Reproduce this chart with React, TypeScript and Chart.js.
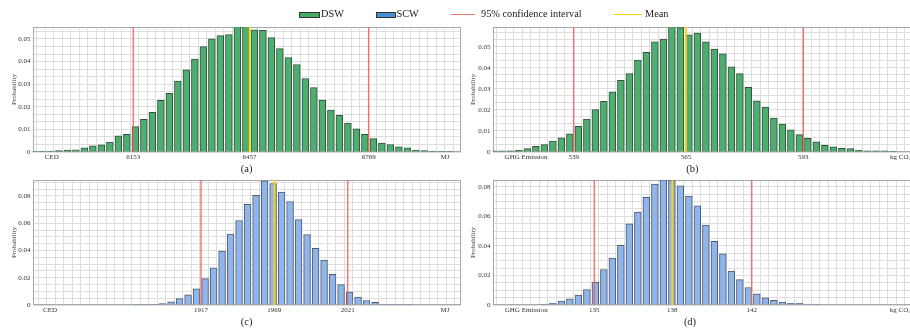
import React, { useEffect, useRef } from 'react';
import { Chart, registerables } from 'chart.js';

Chart.register(...registerables);

const FONT = "'Liberation Serif', 'Times New Roman', Times, serif";
Chart.defaults.font.family = FONT;

// histogram bins (categories)
const bins = Array.from({ length: 50 }, (_, i) => i);

// probability per bin
const dswCED = [
  0.0002, 0.0002, 0.0004, 0.0006, 0.0009, 0.001, 0.0018, 0.0027, 0.0032, 0.0044,
  0.0072, 0.0078, 0.0112, 0.0145, 0.0176, 0.0229, 0.026, 0.0314, 0.0363, 0.0411,
  0.0466, 0.0501, 0.0515, 0.0519, 0.0556, 0.0556, 0.0541, 0.0538, 0.0506, 0.0457,
  0.0418, 0.0387, 0.0325, 0.0285, 0.023, 0.0186, 0.0162, 0.0128, 0.0103, 0.0078,
  0.0059, 0.0039, 0.0033, 0.0023, 0.0019, 0.0009, 0.0006, 0.0004, 0.0003, 0.0003,
];
const dswGHG = [
  0.0005, 0.0005, 0.0006, 0.0008, 0.0016, 0.0027, 0.0035, 0.0052, 0.0067, 0.0087,
  0.0122, 0.0157, 0.0202, 0.0241, 0.0287, 0.0341, 0.0373, 0.0438, 0.0475, 0.0524,
  0.0538, 0.06, 0.0592, 0.0558, 0.0566, 0.0524, 0.049, 0.0467, 0.0405, 0.0373,
  0.0308, 0.0244, 0.0214, 0.0162, 0.0133, 0.0106, 0.0083, 0.0065, 0.0048, 0.0032,
  0.0025, 0.0017, 0.0016, 0.0008, 0.0006, 0.0006, 0.0005, 0.0003, 0, 0,
];
const scwCED = [
  0, 0, 0, 0, 0, 0, 0, 0, 0, 0,
  0, 0, 0.0001, 0.0003, 0.0004, 0.0011, 0.0023, 0.0048, 0.0075, 0.0119,
  0.0194, 0.0273, 0.0395, 0.052, 0.062, 0.0738, 0.0804, 0.0911, 0.0891, 0.0828,
  0.0759, 0.0627, 0.0517, 0.0415, 0.0329, 0.0225, 0.0149, 0.0095, 0.0058, 0.0033,
  0.002, 0.0005, 0.0005, 0.0001, 0.0001, 0, 0, 0, 0, 0,
];
const scwGHG = [
  0, 0, 0, 0, 0, 0, 0.0003, 0.0011, 0.0026, 0.0042,
  0.0067, 0.0105, 0.0155, 0.024, 0.0317, 0.0404, 0.0548, 0.0628, 0.0728, 0.0817,
  0.0846, 0.0841, 0.0805, 0.0737, 0.0671, 0.0541, 0.0431, 0.0346, 0.023, 0.0172,
  0.0118, 0.0076, 0.0049, 0.0031, 0.002, 0.0013, 0.0011, 0.0007, 0.0002, 0,
  0, 0, 0, 0, 0, 0, 0, 0, 0, 0,
];

// 95% confidence interval bounds and means
const dswCEDci = [6153, 6769];
const dswCEDmean = 6457;
const dswGHGci = [539, 593];
const dswGHGmean = 565.4;
const scwCEDci = [1917, 2021];
const scwCEDmean = 1969;
const scwGHGci = [134.6, 141.6];
const scwGHGmean = 138.07;

// axis end labels
const cedUnits = ['CED', 'MJ'];
const ghgUnits = ['GHG Emission', 'kg CO₂-eq'];

const legendItems = ['DSW', 'SCW', '95% confidence interval', 'Mean'];
const panelLabels = ['(a)', '(b)', '(c)', '(d)'];

const DSW_FILL = '#4dae70';
const DSW_EDGE = '#34503d';
const SCW_FILL = '#8fb5ea';
const SCW_EDGE = '#4d596c';
const CI_COLOR = 'rgba(243, 95, 95, 0.85)';
const MEAN_COLOR = '#ffd400';
const GRID = '#dedede';
const FRAME = '#a9a9a9';
const TEXT = '#333';

type Panel = {
  values: number[];
  fill: string;
  edge: string;
  ci: number[];
  mean: number;
  units: string[];
  unitAt: number[];
  valueRange: number[];
  binRange: number[];
  yMax: number;
  yStep: number;
  yMajor: number;
  left: number;
  top: number;
  width: number;
  height: number;
  padLeft: number;
  padTop: number;
  yWidth: number;
  chartRight: number;
};

const panels: Panel[] = [
  {
    values: dswCED, fill: DSW_FILL, edge: DSW_EDGE, ci: dswCEDci, mean: dswCEDmean,
    units: cedUnits, unitAt: [5939.4, 6968.6], valueRange: [5889.2, 7010.5], binRange: [-0.5, 49.91],
    yMax: 0.0553, yStep: 0.01 / 3, yMajor: 0.01,
    left: 0, top: 0, width: 466, height: 166, padLeft: 10, padTop: 27, yWidth: 22.5, chartRight: 461,
  },
  {
    values: dswGHG, fill: DSW_FILL, edge: DSW_EDGE, ci: dswGHGci, mean: dswGHGmean,
    units: ghgUnits, unitAt: [527.8, 616.9], valueRange: [519.9, 620.56], binRange: [-0.5, 49.85],
    yMax: 0.0595, yStep: 0.01 / 3, yMajor: 0.01,
    left: 459, top: 0, width: 466, height: 166, padLeft: 9.5, padTop: 27, yWidth: 24, chartRight: 920.5,
  },
  {
    values: scwCED, fill: SCW_FILL, edge: SCW_EDGE, ci: scwCEDci, mean: scwCEDmean,
    units: cedUnits, unitAt: [1810, 2090], valueRange: [1797.55, 2101.3], binRange: [-0.7, 49.71],
    yMax: 0.0917, yStep: 0.005, yMajor: 0.02,
    left: 0, top: 160, width: 466, height: 159, padLeft: 10, padTop: 20, yWidth: 22.5, chartRight: 461,
  },
  {
    values: scwGHG, fill: SCW_FILL, edge: SCW_EDGE, ci: scwGHGci, mean: scwGHGmean,
    units: ghgUnits, unitAt: [131.57, 148.41], valueRange: [130.07, 149.11], binRange: [-0.5, 49.85],
    yMax: 0.0845, yStep: 0.005, yMajor: 0.02,
    left: 459, top: 160, width: 466, height: 159, padLeft: 9.5, padTop: 20, yWidth: 24, chartRight: 920.5,
  },
];

const framePlugin = {
  id: 'frame',
  beforeDatasetsDraw(chart: any) {
    const { ctx, chartArea: a } = chart;
    ctx.save();
    ctx.strokeStyle = FRAME;
    ctx.lineWidth = 1;
    const l = Math.round(a.left) + 0.5;
    const t = Math.round(a.top) + 0.5;
    const r = Math.round(a.right) - 0.5;
    const b = Math.round(a.bottom) - 0.5;
    ctx.strokeRect(l, t, r - l, b - t);
    ctx.restore();
  },
};

function HistogramPanel({ p }: { p: Panel }) {
  const ref = useRef<HTMLCanvasElement>(null);
  useEffect(() => {
    const canvas = ref.current;
    if (!canvas) return;
    const isMajor = (v: number) => Math.abs(v / p.yMajor - Math.round(v / p.yMajor)) < 1e-6;
    const fmtY = (v: number) => (Math.abs(v) < 1e-12 ? '0' : v.toFixed(2));
    const xTickValues = [p.unitAt[0], p.ci[0], p.mean, p.ci[1], p.unitAt[1]];
    const xTickLabels = [
      p.units[0],
      String(Math.round(p.ci[0])),
      String(Math.round(p.mean)),
      String(Math.round(p.ci[1])),
      p.units[1],
    ];
    const vline = (x: number, color: string, width: number, order: number) => ({
      type: 'line' as const,
      data: [{ x, y: 0 }, { x, y: p.yMax }],
      xAxisID: 'xv',
      yAxisID: 'y',
      borderColor: color,
      borderWidth: width,
      pointRadius: 0,
      order,
    });
    const chart = new Chart(canvas, {
      type: 'bar',
      data: {
        datasets: [
          {
            type: 'bar',
            data: bins.map((b, i) => ({ x: b, y: p.values[i] })),
            xAxisID: 'x',
            yAxisID: 'y',
            backgroundColor: p.fill,
            borderColor: p.edge,
            borderWidth: 1,
            barThickness: 6.8,
            order: 3,
          } as any,
          vline(p.ci[0], CI_COLOR, 1.5, 1),
          vline(p.ci[1], CI_COLOR, 1.5, 1),
          vline(p.mean, MEAN_COLOR, 1.8, 0),
        ],
      },
      options: {
        animation: false,
        responsive: false,
        events: [],
        layout: {
          padding: {
            left: p.padLeft,
            top: p.padTop,
            right: p.left + p.width - p.chartRight,
            bottom: 0,
          },
        },
        plugins: {
          legend: { display: false },
          tooltip: { enabled: false },
          title: { display: false },
        },
        scales: {
          x: {
            type: 'linear',
            position: 'bottom',
            min: p.binRange[0],
            max: p.binRange[1],
            offset: false,
            grid: { color: GRID, offset: false, drawTicks: false, lineWidth: 1 },
            border: { display: false },
            ticks: { display: false, autoSkip: false },
            afterBuildTicks: (s: any) => {
              s.ticks = bins.map((v) => ({ value: v }));
            },
            afterFit: (s: any) => {
              s.height = 0;
            },
          },
          xv: {
            type: 'linear',
            position: 'bottom',
            min: p.valueRange[0],
            max: p.valueRange[1],
            offset: false,
            grid: { display: false, drawTicks: false },
            border: { display: false },
            ticks: {
              autoSkip: false,
              maxRotation: 0,
              minRotation: 0,
              padding: 1,
              color: TEXT,
              font: { size: 7, family: FONT },
              callback: (_v: any, i: number) => xTickLabels[i],
            },
            afterBuildTicks: (s: any) => {
              s.ticks = xTickValues.map((v) => ({ value: v }));
            },
            afterFit: (s: any) => {
              s.height = 14;
            },
          },
          y: {
            type: 'linear',
            position: 'left',
            min: 0,
            max: p.yMax,
            grid: { color: GRID, drawTicks: false, lineWidth: 1 },
            border: { display: false },
            ticks: {
              autoSkip: false,
              padding: 2,
              color: TEXT,
              font: { size: 7, family: FONT },
              callback: (v: any) => (isMajor(Number(v)) ? fmtY(Number(v)) : ''),
            },
            afterBuildTicks: (s: any) => {
              const t: { value: number }[] = [];
              for (let k = 0; k * p.yStep <= p.yMax + 1e-12; k++) t.push({ value: k * p.yStep });
              s.ticks = t;
            },
            title: {
              display: true,
              text: 'Probability',
              color: TEXT,
              font: { size: 7, family: FONT },
              padding: 0,
            },
            afterFit: (s: any) => {
              s.width = p.yWidth;
            },
          },
        } as any,
      },
      plugins: [framePlugin],
    });
    return () => chart.destroy();
  }, [p]);
  return (
    <canvas
      ref={ref}
      width={p.width}
      height={p.height}
      style={{ position: 'absolute', left: p.left, top: p.top, width: p.width, height: p.height }}
    />
  );
}

const textStyle: React.CSSProperties = {
  position: 'absolute',
  fontFamily: FONT,
  fontSize: '10.3px',
  lineHeight: '12px',
  color: '#222',
  whiteSpace: 'nowrap',
};

export default function App() {
  const labelPos = [
    [246.7, 163],
    [692.3, 163],
    [246.7, 315.5],
    [690, 315.5],
  ];
  return (
    <div
      style={{
        position: 'fixed',
        left: 0,
        top: 0,
        width: 910,
        height: 329,
        overflow: 'hidden',
        background: '#fff',
      }}
    >
      {panels.map((p, i) => (
        <HistogramPanel key={i} p={p} />
      ))}
      {/* legend */}
      <div
        style={{
          position: 'absolute', left: 299, top: 11.5, width: 21, height: 6,
          background: '#45ab68', border: '1px solid #333', boxSizing: 'border-box',
        }}
      />
      <div style={{ ...textStyle, left: 321, top: 8 }}>{legendItems[0]}</div>
      <div
        style={{
          position: 'absolute', left: 375.5, top: 11.5, width: 20.5, height: 6,
          background: '#4a90d0', border: '1px solid #333', boxSizing: 'border-box',
        }}
      />
      <div style={{ ...textStyle, left: 396.5, top: 8 }}>{legendItems[1]}</div>
      <div style={{ position: 'absolute', left: 451, top: 13.5, width: 24, height: 1.5, background: CI_COLOR }} />
      <div style={{ ...textStyle, left: 481, top: 8 }}>{legendItems[2]}</div>
      <div style={{ position: 'absolute', left: 614, top: 13.5, width: 28, height: 1.5, background: MEAN_COLOR }} />
      <div style={{ ...textStyle, left: 645, top: 8 }}>{legendItems[3]}</div>
      {panelLabels.map((t, i) => (
        <div
          key={t}
          style={{
            ...textStyle,
            fontSize: '10.5px',
            left: labelPos[i][0] - 20,
            top: labelPos[i][1],
            width: 40,
            textAlign: 'center',
          }}
        >
          {t}
        </div>
      ))}
    </div>
  );
}
